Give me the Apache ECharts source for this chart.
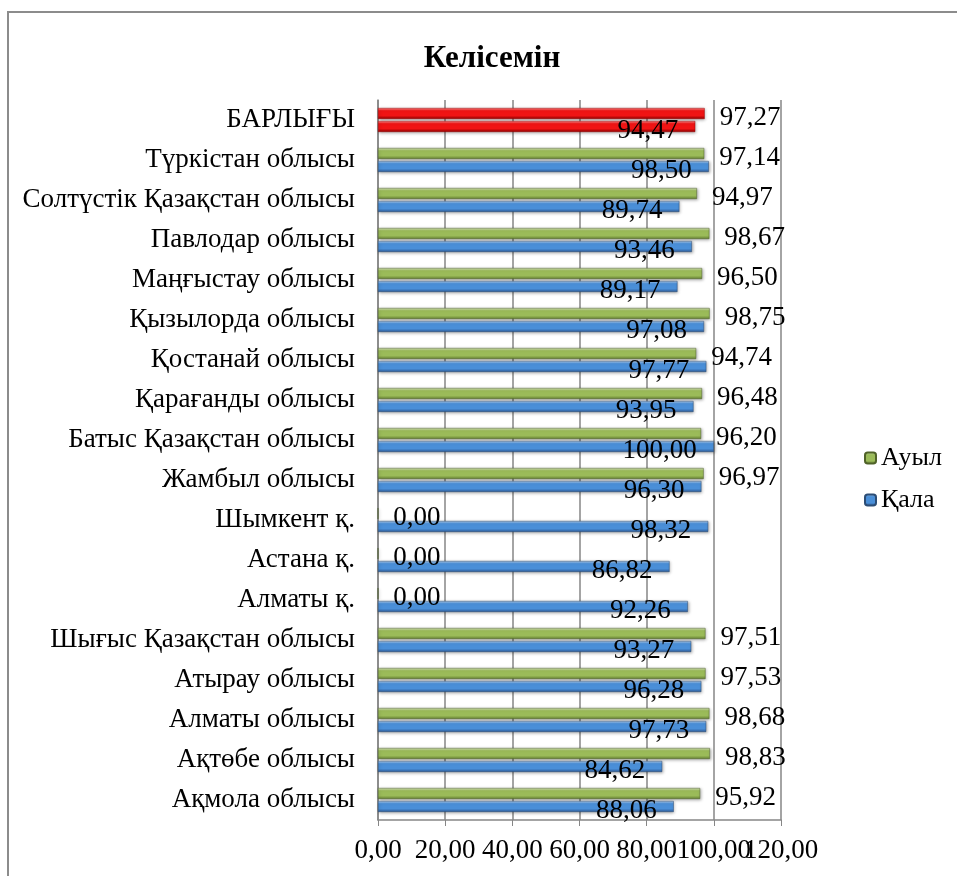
<!DOCTYPE html>
<html>
<head>
<meta charset="utf-8">
<script src="https://cdn.jsdelivr.net/npm/echarts@6/dist/echarts.min.js"></script>
<style>
  html, body { margin: 0; padding: 0; background: #fff; }
  #chart { width: 957px; height: 876px; }
</style>
</head>
<body>
<div id="chart"></div>
<script>
// категориялар (төменнен жоғары қарай)
var categories = [
  'Ақмола облысы', 'Ақтөбе облысы', 'Алматы облысы', 'Атырау облысы',
  'Шығыс Қазақстан облысы', 'Алматы қ.', 'Астана қ.', 'Шымкент қ.',
  'Жамбыл облысы', 'Батыс Қазақстан облысы', 'Қарағанды облысы',
  'Қостанай облысы', 'Қызылорда облысы', 'Маңғыстау облысы',
  'Павлодар облысы', 'Солтүстік Қазақстан облысы', 'Түркістан облысы',
  'БАРЛЫҒЫ'
];
var qalaValues = [88.06, 84.62, 97.73, 96.28, 93.27, 92.26, 86.82, 98.32,
  96.30, 100.00, 93.95, 97.77, 97.08, 89.17, 93.46, 89.74, 98.50, 94.47];
var auylValues = [95.92, 98.83, 98.68, 97.53, 97.51, 0, 0, 0,
  96.97, 96.20, 96.48, 94.74, 98.75, 96.50, 98.67, 94.97, 97.14, 97.27];
var xTicks = [0, 20, 40, 60, 80, 100, 120];

var font = 'Liberation Serif, Times New Roman, serif';

function grad(light, base, dark) {
  return new echarts.graphic.LinearGradient(0, 0, 0, 1, [
    { offset: 0, color: light },
    { offset: 0.25, color: base },
    { offset: 0.7, color: base },
    { offset: 1, color: dark }
  ]);
}
var greenFill = grad('#dde9c4', '#9bbb59', '#647f32');
var blueFill = grad('#b3d0f0', '#4a8fd8', '#2c5a98');
var redFill = grad('#ff9090', '#f01414', '#8b0000');

function fmt(v) { return v.toFixed(2).replace('.', ','); }

function buildData(values) {
  return values.map(function (v, i) {
    if (categories[i] === 'БАРЛЫҒЫ') {
      return { value: v, itemStyle: { color: redFill, borderColor: '#a00000' } };
    }
    return v;
  });
}

// 100,00 белгісі көршілерімен қабаттасады, сондықтан екінші осьте шығарамыз
var crowdedTick = 100;
var tickLabelStyle = {
  margin: 17,
  showMinLabel: true,
  showMaxLabel: true,
  fontFamily: font, fontSize: 27, color: '#000'
};

var chart = echarts.init(document.getElementById('chart'));
var option = {
  backgroundColor: '#fff',
  animation: false,
  graphic: [{
    type: 'rect',
    shape: { x: 8, y: 12, width: 1000, height: 900 },
    style: { fill: 'none', stroke: '#8c8c8c', lineWidth: 2 }
  }],
  title: {
    text: 'Келісемін',
    left: 487,
    textAlign: 'center',
    top: 38,
    textStyle: { fontFamily: font, fontWeight: 'bold', fontSize: 31, color: '#000' }
  },
  legend: {
    orient: 'vertical',
    left: 859,
    top: 440,
    itemWidth: 11,
    itemHeight: 11,
    itemGap: 16,
    data: ['Ауыл', 'Қала'],
    textStyle: { fontFamily: font, fontSize: 26, color: '#000' }
  },
  grid: { left: 378, right: 176, top: 100, bottom: 56 },
  xAxis: [
    {
      type: 'value',
      min: xTicks[0],
      max: xTicks[xTicks.length - 1],
      interval: 20,
      axisLine: { show: true, lineStyle: { color: '#868686', width: 1.5 } },
      axisTick: { show: true, length: 6, lineStyle: { color: '#868686' } },
      splitLine: { lineStyle: { color: '#868686', width: 1.5 } },
      axisLabel: Object.assign({}, tickLabelStyle, {
        formatter: function (v) { return v === crowdedTick ? '' : fmt(v); }
      })
    },
    {
      type: 'value',
      position: 'bottom',
      min: xTicks[0],
      max: xTicks[xTicks.length - 1],
      interval: 20,
      axisLine: { show: false },
      axisTick: { show: false },
      splitLine: { show: false },
      axisLabel: Object.assign({}, tickLabelStyle, {
        formatter: function (v) { return v === crowdedTick ? fmt(v) : ''; }
      })
    }
  ],
  yAxis: {
    type: 'category',
    data: categories,
    axisLine: { show: true, lineStyle: { color: '#868686', width: 1.5 } },
    axisTick: { show: false },
    axisLabel: { margin: 23, fontFamily: font, fontSize: 27, color: '#000' }
  },
  series: [
    {
      name: 'Ауыл',
      type: 'bar',
      barWidth: 11,
      barGap: '18%',
      data: buildData(auylValues),
      itemStyle: {
        color: greenFill, borderColor: '#4f6228', borderWidth: 0.5,
        shadowColor: 'rgba(0,0,0,0.3)', shadowBlur: 3, shadowOffsetX: 1, shadowOffsetY: 1
      },
      label: {
        show: true,
        position: 'right',
        distance: 15,
        offset: [0, 4],
        fontFamily: font, fontSize: 27, color: '#000',
        formatter: function (p) { return fmt(p.value); }
      }
    },
    {
      name: 'Қала',
      type: 'bar',
      barWidth: 11,
      barGap: '18%',
      data: buildData(qalaValues),
      itemStyle: {
        color: blueFill, borderColor: '#2c4d75', borderWidth: 0.5,
        shadowColor: 'rgba(0,0,0,0.3)', shadowBlur: 3, shadowOffsetX: 1, shadowOffsetY: 1
      },
      label: {
        show: true,
        position: 'insideRight',
        offset: [-12, 4],
        fontFamily: font, fontSize: 27, color: '#000',
        formatter: function (p) { return fmt(p.value); }
      }
    }
  ]
};
chart.setOption(option);
</script>
</body>
</html>
